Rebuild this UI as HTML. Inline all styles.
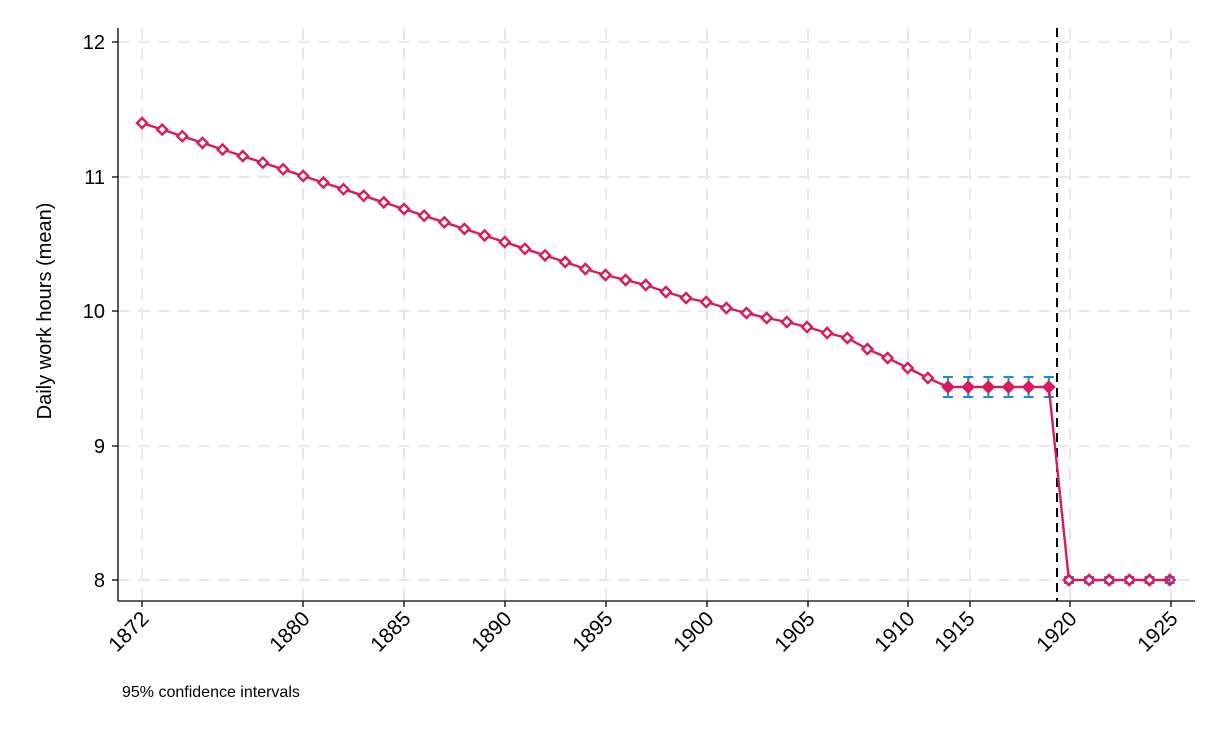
<!DOCTYPE html>
<html><head><style>body{margin:0;background:#fff}</style></head><body>
<svg width="1220" height="732" xmlns="http://www.w3.org/2000/svg" font-family="Liberation Sans, sans-serif">
<defs>
<marker id="d" markerUnits="userSpaceOnUse" markerWidth="14" markerHeight="14" refX="7" refY="7" viewBox="0 0 14 14" overflow="visible"><polygon points="7,2 12,7 7,12 2,7" fill="#fff" stroke="#d81b60" stroke-width="2.4"/></marker>
<marker id="f" markerUnits="userSpaceOnUse" markerWidth="14" markerHeight="14" refX="7" refY="7" viewBox="0 0 14 14" overflow="visible"><polygon points="7,2 12,7 7,12 2,7" fill="#d81b60" stroke="#d81b60" stroke-width="2.4"/></marker>
<marker id="o" markerUnits="userSpaceOnUse" markerWidth="14" markerHeight="14" refX="7" refY="7" viewBox="0 0 14 14" overflow="visible"><polygon points="7,2 12,7 7,12 2,7" fill="none" stroke="#d81b60" stroke-width="2.4"/></marker>
</defs>
<rect width="1220" height="732" fill="#fff"/>
<g stroke="#e8e8e8" stroke-width="2" stroke-dasharray="12,8">
<line x1="118" x2="1190" y1="42" y2="42"/><line x1="118" x2="1190" y1="177" y2="177"/><line x1="118" x2="1190" y1="311" y2="311"/><line x1="118" x2="1190" y1="446" y2="446"/><line x1="118" x2="1190" y1="580" y2="580"/>
<line x1="142" x2="142" y1="28" y2="600"/><line x1="303" x2="303" y1="28" y2="600"/><line x1="404" x2="404" y1="28" y2="600"/><line x1="505" x2="505" y1="28" y2="600"/><line x1="606" x2="606" y1="28" y2="600"/><line x1="707" x2="707" y1="28" y2="600"/><line x1="808" x2="808" y1="28" y2="600"/><line x1="908" x2="908" y1="28" y2="600"/><line x1="970" x2="970" y1="28" y2="600"/><line x1="1070" x2="1070" y1="28" y2="600"/><line x1="1171" x2="1171" y1="28" y2="600"/>
</g>
<g stroke="#000" stroke-width="1.3">
<line x1="118" x2="118" y1="28" y2="601"/><line x1="118" x2="1195" y1="601" y2="601"/>
<line x1="112" x2="118" y1="42" y2="42"/><line x1="112" x2="118" y1="177" y2="177"/><line x1="112" x2="118" y1="311" y2="311"/><line x1="112" x2="118" y1="446" y2="446"/><line x1="112" x2="118" y1="580" y2="580"/>
<line x1="142" x2="142" y1="601" y2="607"/><line x1="303" x2="303" y1="601" y2="607"/><line x1="404" x2="404" y1="601" y2="607"/><line x1="505" x2="505" y1="601" y2="607"/><line x1="606" x2="606" y1="601" y2="607"/><line x1="707" x2="707" y1="601" y2="607"/><line x1="808" x2="808" y1="601" y2="607"/><line x1="908" x2="908" y1="601" y2="607"/><line x1="970" x2="970" y1="601" y2="607"/><line x1="1070" x2="1070" y1="601" y2="607"/><line x1="1171" x2="1171" y1="601" y2="607"/>
</g>
<g font-size="20" text-anchor="end">
<text x="105" y="49">12</text><text x="105" y="184">11</text><text x="105" y="318">10</text><text x="105" y="453">9</text><text x="105" y="587">8</text>
</g>
<g font-size="21" text-anchor="end">
<text transform="translate(150,620) rotate(-45)">1872</text>
<text transform="translate(311,620) rotate(-45)">1880</text>
<text transform="translate(412,620) rotate(-45)">1885</text>
<text transform="translate(513,620) rotate(-45)">1890</text>
<text transform="translate(614,620) rotate(-45)">1895</text>
<text transform="translate(715,620) rotate(-45)">1900</text>
<text transform="translate(816,620) rotate(-45)">1905</text>
<text transform="translate(916,620) rotate(-45)">1910</text>
<text transform="translate(976,620) rotate(-45)">1915</text>
<text transform="translate(1078,620) rotate(-45)">1920</text>
<text transform="translate(1179,620) rotate(-45)">1925</text>
</g>
<text transform="translate(51,311) rotate(-90)" font-size="20" text-anchor="middle">Daily work hours (mean)</text>
<text x="122" y="697" font-size="16">95% confidence intervals</text>
<line x1="1057" x2="1057" y1="28" y2="601" stroke="#000" stroke-width="2" stroke-dasharray="9,6"/>
<path stroke="#1e88e5" stroke-width="2" fill="none" d="M948 377V397M943 377H953M943 397H953 M968.2 377V397M963.2 377H973.2M963.2 397H973.2 M988.3 377V397M983.3 377H993.3M983.3 397H993.3 M1008.5 377V397M1003.5 377H1013.5M1003.5 397H1013.5 M1028.6 377V397M1023.6 377H1033.6M1023.6 397H1033.6 M1048.8 377V397M1043.8 377H1053.8M1043.8 397H1053.8 M1068.9 577V583M1063.9 577H1073.9M1063.9 583H1073.9 M1089.1 577V583M1084.1 577H1094.1M1084.1 583H1094.1 M1109.2 577V583M1104.2 577H1114.2M1104.2 583H1114.2 M1129.4 577V583M1124.4 577H1134.4M1124.4 583H1134.4 M1149.5 577V583M1144.5 577H1154.5M1144.5 583H1154.5 M1169.7 577V583M1164.7 577H1174.7M1164.7 583H1174.7"/>
<polyline fill="none" stroke="#d81b60" stroke-width="2.4" marker-start="url(#d)" marker-mid="url(#d)" points="142,123 162.2,129.6 182.3,136.2 202.5,142.9 222.6,149.5 242.8,156.1 262.9,162.7 283.1,169.3 303.2,176 323.4,182.6 343.5,189.2 363.7,195.8 383.8,202.4 404,209 424.1,215.7 444.3,222.3 464.4,228.9 484.6,235.5 504.7,242.1 524.9,248.8 545,255.4 565.2,262 585.3,269 605.5,275 625.6,280 645.8,285 665.9,292 686.1,298 706.2,302 726.4,308 746.5,313 766.7,318 786.8,322 807,327 827.1,333 847.3,338 867.4,349 887.6,358 907.7,368 927.9,378 948,387 968.2,387 988.3,387 1008.5,387 1028.6,387 1048.8,387 1068.9,580 1089.1,580 1109.2,580 1129.4,580 1149.5,580 1169.7,580"/>
<polyline fill="none" stroke="none" marker-start="url(#f)" marker-mid="url(#f)" marker-end="url(#f)" points="948,387 968.2,387 988.3,387 1008.5,387 1028.6,387 1048.8,387"/>
<polyline fill="none" stroke="none" marker-start="url(#o)" marker-mid="url(#o)" marker-end="url(#o)" points="1068.9,580 1089.1,580 1109.2,580 1129.4,580 1149.5,580 1169.7,580"/>
</svg>
</body></html>
